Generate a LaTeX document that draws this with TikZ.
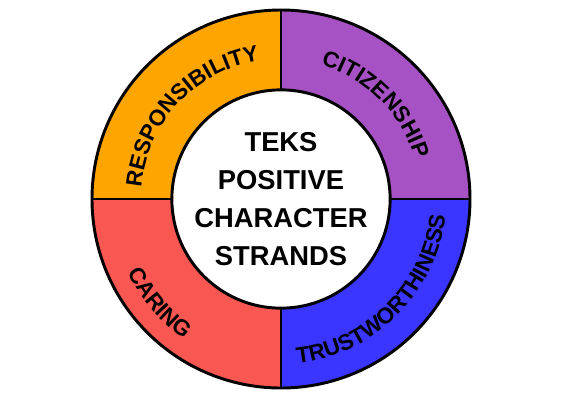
\documentclass[tikz,border=0pt]{standalone}
\usepackage{fontspec}
\setmainfont{Liberation Sans}
\usetikzlibrary{decorations.text}

\definecolor{respcol}{HTML}{FFA500}
\definecolor{citicol}{HTML}{A752C4}
\definecolor{trustcol}{HTML}{3A35FF}
\definecolor{carecol}{HTML}{F95752}
\newcommand{\lblfont}{\fontsize{16.8}{19}\selectfont\bfseries}

\begin{document}
\begin{tikzpicture}[x=0.75pt, y=0.75pt,
  edge/.style={line width=2.2pt},
  hub/.style={circle, draw, fill=white, line width=2.2pt, minimum size=160.5pt,
    inner sep=0pt, align=center, font=\fontsize{20.5}{28.5}\selectfont\bfseries},
  arctext/.style={decorate, decoration={text along path, text align=center,
    text={|\lblfont|#1}}}]
  \useasboundingbox (-281,-206) rectangle (289,199);
  \coordinate (O) at (0,0);
  \foreach \a/\col in {90/respcol,0/citicol,-90/trustcol,180/carecol}
    \fill[\col] (O) -- (\a:189) arc[start angle=\a, end angle=\a+90, radius=189] -- cycle;
  \foreach \a in {0,90,180,270} \draw[edge] (\a:107) -- (\a:189);
  \draw[edge] (O) circle[radius=189];
  \node[hub] (hub) at (O) {TEKS\\POSITIVE\\CHARACTER\\STRANDS};
  \path[arctext=RESPONSIBILITY] (182:140) arc[start angle=182, end angle=92, radius=140];
  \path[arctext=CITIZENSHIP] (90:140) arc[start angle=90, end angle=0, radius=140];
  \path[arctext=TRUSTWORTHINESS] (-90:165) arc[start angle=-90, end angle=0, radius=165];
  \path[arctext=CARING] (190:170) arc[start angle=190, end angle=251, radius=170];
\end{tikzpicture}
\end{document}
